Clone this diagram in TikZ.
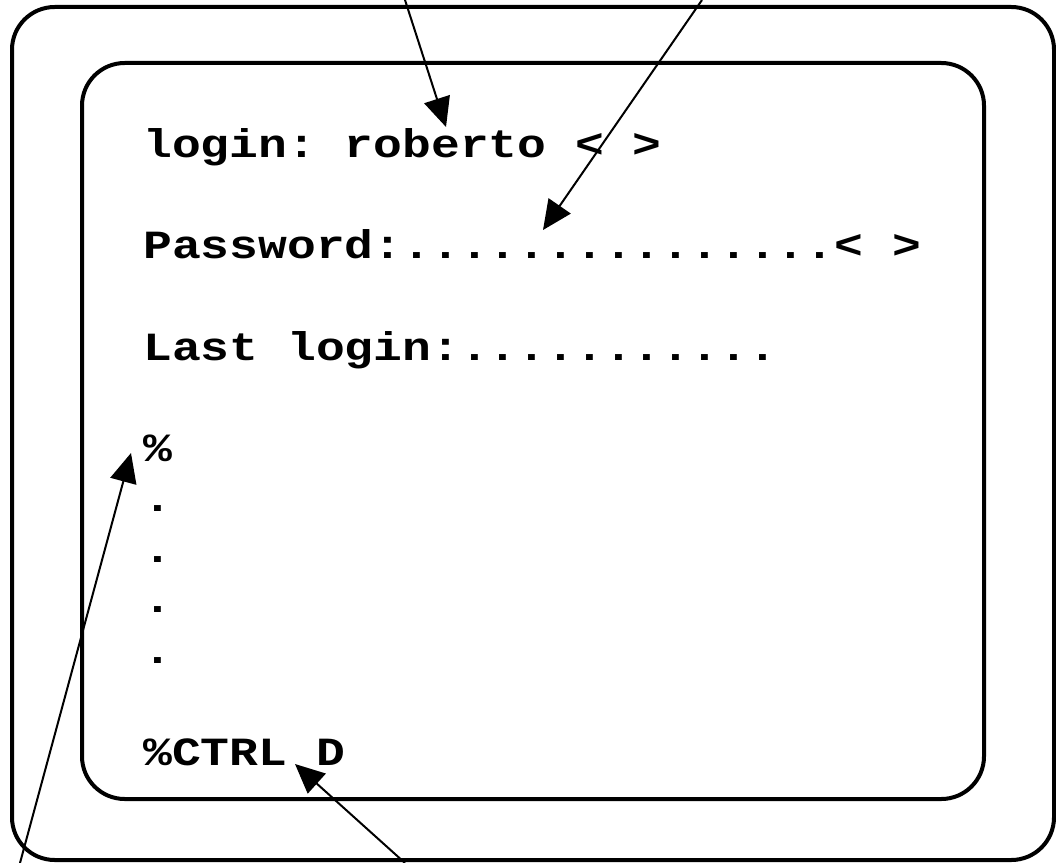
\documentclass[tikz,border=0pt]{standalone}
\usepackage{fontspec}
\newfontfamily\termfont[FakeStretch=1.2]{Liberation Mono}
\usetikzlibrary{arrows.meta}

\begin{document}
\begin{tikzpicture}[x=0.75pt,y=-0.75pt,
    box/.style={draw,line width=3pt,rounded corners=32pt},
    txt/.style={anchor=base west,inner sep=0pt,font=\termfont\bfseries\frenchspacing\fontsize{30}{30}\selectfont},
    pointer/.style={line width=1.5pt,-{Triangle[length=22pt,width=20pt]}}]
\useasboundingbox (0,0) rectangle (1056,863);
\draw[box] (12,7) rectangle (1054,860);
\draw[box] (82,63) rectangle (984,799);
\node[txt] (login) at (143,157) {login: roberto < >};
\node[txt] (passwd) at (143,258) {Password:...............< >};
\node[txt] (last) at (143,360) {Last login:...........};
\node[txt] (prompt) at (143,461) {\%};
\foreach \y [count=\i] in {511,562,612,663}
    \node[txt] (dot\i) at (143,\y) {.};
\node[txt] (ctrld) at (143,765) {\%CTRL D};
%arrow ends
\coordinate (s1) at (405,0);   \coordinate (t1) at (446,127);
\coordinate (s2) at (702,0);   \coordinate (t2) at (543,230);
\coordinate (s3) at (20,863);  \coordinate (t3) at (131,453);
\coordinate (s4) at (405,863); \coordinate (t4) at (295,764);
\draw[pointer] (s1) -- (t1);
\draw[pointer] (s2) -- (t2);
\draw[pointer] (s3) -- (t3);
\draw[pointer] (s4) -- (t4);
\end{tikzpicture}
\end{document}
